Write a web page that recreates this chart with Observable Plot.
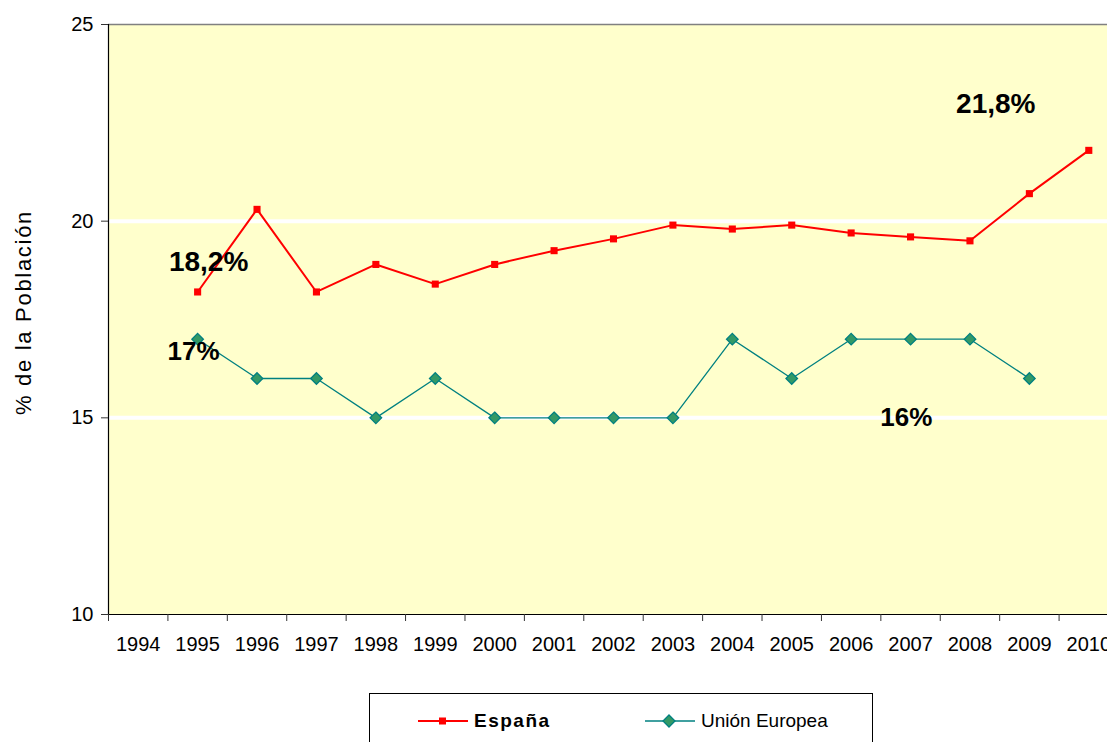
<!DOCTYPE html>
<html>
<head>
<meta charset="utf-8">
<script src="https://cdn.jsdelivr.net/npm/d3@7"></script>
<script src="https://cdn.jsdelivr.net/npm/@observablehq/plot@0.6"></script>
<style>
  html, body { margin: 0; padding: 0; background: white; overflow: hidden; }
  body { width: 1107px; height: 742px; position: relative; font-family: "Liberation Sans", Arial, sans-serif; }
  #chart { position: absolute; left: 0; top: 0; width: 1118px; }
  #legend { position: absolute; left: 369px; top: 693px; width: 502px; height: 70px; border: 1px solid #000; background: white; }
  .item { position: absolute; top: 16px; height: 22px; display: flex; align-items: center; font-size: 19px; color: #000; }
  .item svg { margin-right: 6px; }
</style>
</head>
<body>
<div id="chart"></div>
<div id="legend"></div>
<script>
const years = [1994,1995,1996,1997,1998,1999,2000,2001,2002,2003,2004,2005,2006,2007,2008,2009,2010];
const seriesNames = ["España", "Unión Europea"];
const espanaYears = [1995,1996,1997,1998,1999,2000,2001,2002,2003,2004,2005,2006,2007,2008,2009,2010];
const espanaValues = [18.2,20.3,18.2,18.9,18.4,18.9,19.25,19.55,19.9,19.8,19.9,19.7,19.6,19.5,20.7,21.8];
const ueYears = [1995,1996,1997,1998,1999,2000,2001,2002,2003,2004,2005,2006,2007,2008,2009];
const ueValues = [17,16,16,15,16,15,15,15,15,17,16,17,17,17,16];
const yTicks = [10,15,20,25];
const gridValues = [15,20];
const yLabel = "% de la Población";
const annoEspana = ["18,2%", "21,8%"];
const annoUE = ["17%", "16%"];

const espana = espanaYears.map((x, i) => ({x, y: espanaValues[i]}));
const ue = ueYears.map((x, i) => ({x, y: ueValues[i]}));
const edges = years.map(y => y - 0.5);
const xDomain = [years[0] - 0.5, years[years.length - 1] + 0.5];

const RED = "#FF0000", TEAL = "#008080", GREEN = "#339966";

const chart = Plot.plot({
  width: 1118,
  height: 674,
  marginLeft: 108,
  marginRight: 0,
  marginTop: 24,
  marginBottom: 60,
  style: {fontFamily: "'Liberation Sans', Arial, sans-serif", background: "white", color: "black", maxWidth: "none"},
  x: {domain: xDomain},
  y: {domain: [yTicks[0], yTicks[yTicks.length - 1]]},
  marks: [
    Plot.frame({fill: "#FFFFCC", stroke: null}),
    Plot.ruleY(gridValues, {stroke: "white", strokeWidth: 4}),
    Plot.ruleY([yTicks[yTicks.length - 1]], {stroke: "#808080", strokeWidth: 1.5}),
    Plot.ruleY([yTicks[0]], {stroke: "#000", strokeWidth: 1.2}),
    Plot.ruleX([xDomain[0]], {stroke: "#000", strokeWidth: 1.2}),
    Plot.axisY({ticks: yTicks, tickSize: 7, tickPadding: 8, fontSize: 20, stroke: "#333", label: null}),
    Plot.axisX({ticks: edges, tickSize: 7, tickFormat: () => "", label: null, stroke: "#333"}),
    Plot.axisX({ticks: years, tickSize: 0, tickPadding: 22, tickFormat: d => String(d), fontSize: 20, label: null}),
    Plot.text([yLabel], {frameAnchor: "left", text: d => d, rotate: -90, textAnchor: "middle", dx: -85, dy: -7, fontSize: 22, fill: "#000"}),
    Plot.line(espana, {x: "x", y: "y", stroke: RED, strokeWidth: 2}),
    Plot.dot(espana, {x: "x", y: "y", symbol: "square", r: 4, fill: RED, stroke: "none"}),
    Plot.line(ue, {x: "x", y: "y", stroke: TEAL, strokeWidth: 1.3}),
    Plot.dot(ue, {x: "x", y: "y", symbol: "diamond2", r: 5.2, fill: GREEN, stroke: TEAL, strokeWidth: 1.3}),
    Plot.text([espana[0]], {x: "x", y: "y", text: () => annoEspana[0], dx: 11, dy: -30, fontSize: 28, fontWeight: "bold", fill: "#000"}),
    Plot.text([espana[espana.length - 1]], {x: "x", y: "y", text: () => annoEspana[1], dx: -93, dy: -46, fontSize: 28, fontWeight: "bold", fill: "#000"}),
    Plot.text([ue[0]], {x: "x", y: "y", text: () => annoUE[0], dx: -4, dy: 13, fontSize: 26, fontWeight: "bold", fill: "#000"}),
    Plot.text([ue[ue.length - 1]], {x: "x", y: "y", text: () => annoUE[1], dx: -123, dy: 39, fontSize: 26, fontWeight: "bold", fill: "#000"})
  ]
});
d3.select(chart).selectAll('text').filter(function() { return this.textContent === yLabel; }).style("letter-spacing", "1.7px");
document.getElementById("chart").appendChild(chart);

// Legend
const legend = d3.select("#legend");
const it1 = legend.append("div").attr("class", "item").style("left", "48px");
const s1 = it1.append("svg").attr("width", 50).attr("height", 14);
s1.append("line").attr("x1", 0).attr("x2", 50).attr("y1", 7).attr("y2", 7).attr("stroke", RED).attr("stroke-width", 2);
s1.append("rect").attr("x", 21).attr("y", 3.5).attr("width", 7).attr("height", 7).attr("fill", RED);
it1.append("span").text(seriesNames[0]).style("font-weight", "bold").style("letter-spacing", "1.5px");

const it2 = legend.append("div").attr("class", "item").style("left", "275px");
const s2 = it2.append("svg").attr("width", 50).attr("height", 16);
s2.append("line").attr("x1", 0).attr("x2", 50).attr("y1", 8).attr("y2", 8).attr("stroke", TEAL).attr("stroke-width", 1.3);
s2.append("path").attr("d", "M24,2L30,8L24,14L18,8Z").attr("fill", GREEN).attr("stroke", TEAL).attr("stroke-width", 1.3);
it2.append("span").text(seriesNames[1]);
</script>
</body>
</html>
